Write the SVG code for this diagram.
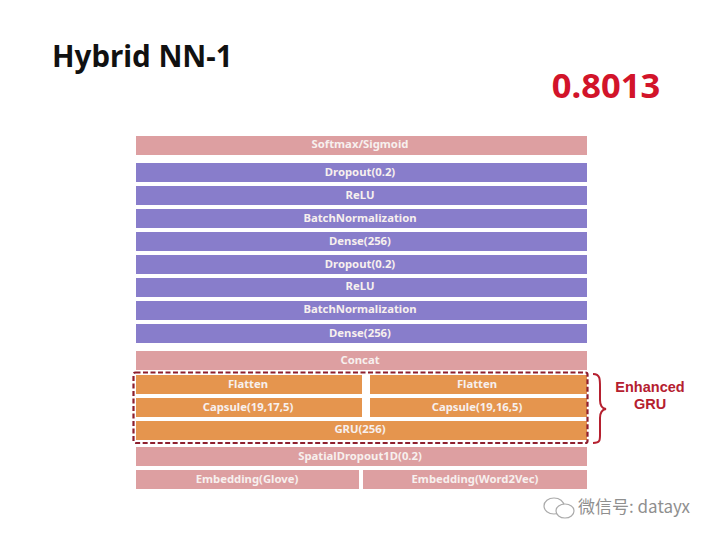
<svg xmlns="http://www.w3.org/2000/svg" width="720" height="540" viewBox="0 0 720 540">
<style>
.p{fill:#dd9fa1}.v{fill:#887dcb}.o{fill:#e5954e}
.t{font:bold 11.300px "Noto Sans","Open Sans",sans-serif;fill:#f7f0ee;text-anchor:middle}
.r{font-family:"Liberation Sans",Arial,sans-serif;font-weight:700;fill:#b5202f;text-anchor:middle}
</style>
<rect width="720" height="540" fill="#fff"/>
<text id="title" x="52" y="67" style="font:bold 29.500px 'Noto Sans','Open Sans',sans-serif;fill:#111">Hybrid NN-1</text>
<text id="score" x="606" y="98" style="font:bold 34.500px 'Noto Sans','Open Sans',sans-serif;fill:#d2142a;text-anchor:middle">0.8013</text>
<g id="softmax"><rect class="p" x="136" y="136" width="451" height="19"/><text class="t" x="360" y="148">Softmax/Sigmoid</text></g>
<g id="dropout1"><rect class="v" x="136" y="163" width="451" height="19"/><text class="t" x="360" y="176">Dropout(0.2)</text></g>
<g id="relu1"><rect class="v" x="136" y="186" width="451" height="19"/><text class="t" x="360" y="199">ReLU</text></g>
<g id="bn1"><rect class="v" x="136" y="209" width="451" height="19"/><text class="t" x="360" y="222">BatchNormalization</text></g>
<g id="dense1"><rect class="v" x="136" y="232" width="451" height="19"/><text class="t" x="360" y="245">Dense(256)</text></g>
<g id="dropout2"><rect class="v" x="136" y="255" width="451" height="19"/><text class="t" x="360" y="268">Dropout(0.2)</text></g>
<g id="relu2"><rect class="v" x="136" y="278" width="451" height="19"/><text class="t" x="360" y="290">ReLU</text></g>
<g id="bn2"><rect class="v" x="136" y="301" width="451" height="19"/><text class="t" x="360" y="313">BatchNormalization</text></g>
<g id="dense2"><rect class="v" x="136" y="324" width="451" height="19"/><text class="t" x="360" y="337">Dense(256)</text></g>
<g id="concat"><rect class="p" x="136" y="351" width="451" height="19"/><text class="t" x="360" y="364">Concat</text></g>
<g id="flatten1"><rect class="o" x="136" y="375" width="226" height="19"/><text class="t" x="248" y="388">Flatten</text></g>
<g id="flatten2"><rect class="o" x="370" y="375" width="217" height="19"/><text class="t" x="477" y="388">Flatten</text></g>
<g id="capsule1"><rect class="o" x="136" y="398" width="226" height="19"/><text class="t" x="248" y="411">Capsule(19,17,5)</text></g>
<g id="capsule2"><rect class="o" x="370" y="398" width="217" height="19"/><text class="t" x="477" y="411">Capsule(19,16,5)</text></g>
<g id="gru"><rect class="o" x="136" y="421" width="451" height="19"/><text class="t" x="360" y="433">GRU(256)</text></g>
<g id="spatial"><rect class="p" x="136" y="447" width="451" height="19"/><text class="t" x="360" y="460">SpatialDropout1D(0.2)</text></g>
<g id="emb1"><rect class="p" x="136" y="470" width="223" height="19"/><text class="t" x="247" y="483">Embedding(Glove)</text></g>
<g id="emb2"><rect class="p" x="363" y="470" width="224" height="19"/><text class="t" x="475" y="483">Embedding(Word2Vec)</text></g>
<g id="enhanced">
<rect x="133.500" y="372.500" width="454" height="70.500" rx="2" fill="none" stroke="#8e1f2e" stroke-width="2.200" stroke-dasharray="5 2.500"/>
<path d="M593 374C601 374 600 380 600 392V400Q600 408 606 409Q600 410 600 418V430C600 440 601 443 593 443" fill="none" stroke="#b5202f" stroke-width="2"/>
<text class="r" x="650" y="392" font-size="14.500">Enhanced</text>
<text class="r" x="650" y="409" font-size="14.500">GRU</text>
</g>
<g id="watermark">
<ellipse cx="554" cy="506" rx="10" ry="8" fill="none" stroke="#aaa" stroke-width="1.200"/>
<ellipse cx="565" cy="511" rx="9" ry="7" fill="#fff" stroke="#aaa" stroke-width="1.200"/>
<text x="578" y="513" style="font:17px 'Noto Sans CJK SC','Noto Sans',sans-serif;fill:#8f8f8f">微信号: datayx</text>
</g>
</svg>
